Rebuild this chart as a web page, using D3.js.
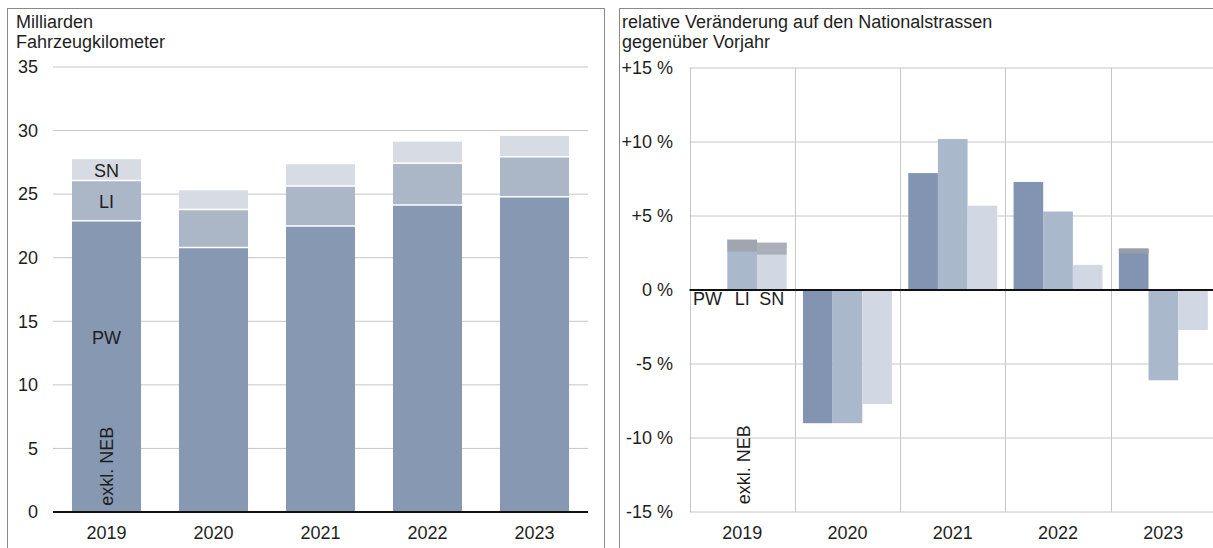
<!DOCTYPE html>
<html>
<head>
<meta charset="utf-8">
<script src="https://cdn.jsdelivr.net/npm/d3@7"></script>
<style>
  body { margin: 0; background: #fff; }
  text { font-family: "Liberation Sans", Arial, sans-serif; fill: #1e1e1e; }
</style>
</head>
<body>
<div id="chart"></div>
<script>
// categories
var years = ["2019", "2020", "2021", "2022", "2023"];
var groups = ["PW", "LI", "SN"];

// left: Milliarden Fahrzeugkilometer (stacked)
var pwKm = [22.9, 20.8, 22.5, 24.15, 24.8];
var liKm = [3.17, 3.0, 3.15, 3.28, 3.15];
var snKm = [1.68, 1.5, 1.7, 1.7, 1.63];

// right: relative change vs previous year, in %
var pwPct = [null, -9.0, 7.9, 7.3, 2.8];
var liPct = [3.4, -9.0, 10.2, 5.3, -6.1];
var snPct = [3.2, -7.7, 5.7, 1.7, -2.7];

// tick values
var kmTicks = [0, 5, 10, 15, 20, 25, 30, 35];
var pctTicks = [-15, -10, -5, 0, 5, 10, 15];

var svgWidth = 1213;
var svgHeight = 548;
var fontSize = "18px";

var colorsKm = { PW: "#8798b2", LI: "#abb6c7", SN: "#d6dbe4" };
var colorsPct = { PW: "#8294b1", LI: "#aab8cc", SN: "#d1d8e4" };
var gridColor = "#c6c6c6";

var svg = d3.select("#chart")
    .append("svg")
    .attr("width", svgWidth)
    .attr("height", svgHeight);

// panel frames
svg.append("rect")
    .attr("x", 7.5).attr("y", 8.5)
    .attr("width", 597).attr("height", 560)
    .attr("fill", "none").attr("stroke", "#8a8a8a");

svg.append("rect")
    .attr("x", 619.5).attr("y", 8.5)
    .attr("width", 640).attr("height", 560)
    .attr("fill", "none").attr("stroke", "#8a8a8a");

// ---------- left chart ----------
var xL = d3.scaleBand()
    .domain(years)
    .range([53, 588])
    .paddingInner(0.355)
    .paddingOuter(0.1775);

var yL = d3.scaleLinear()
    .domain([0, 35])
    .range([512, 67]);

var left = svg.append("g");

// gridlines
left.append("g")
    .selectAll("line")
    .data(kmTicks.filter(d => d !== 0))
    .enter()
    .append("line")
    .attr("x1", 53).attr("x2", 588)
    .attr("y1", d => yL(d)).attr("y2", d => yL(d))
    .attr("stroke", gridColor)
    .attr("stroke-width", 1);

// stacked bars
var stackData = years.map((y, i) => ({ year: y, PW: pwKm[i], LI: liKm[i], SN: snKm[i] }));
var series = d3.stack().keys(groups)(stackData);

left.append("g")
    .selectAll("g")
    .data(series)
    .enter()
    .append("g")
    .attr("fill", d => colorsKm[d.key])
    .selectAll("rect")
    .data(d => d)
    .enter()
    .append("rect")
    .attr("x", d => xL(d.data.year))
    .attr("width", xL.bandwidth())
    .attr("y", d => yL(d[1]))
    .attr("height", d => yL(d[0]) - yL(d[1]));

// white separators between segments
left.append("g")
    .selectAll("line")
    .data(series.slice(0, 2).flatMap(s => s))
    .enter()
    .append("line")
    .attr("x1", d => xL(d.data.year))
    .attr("x2", d => xL(d.data.year) + xL.bandwidth())
    .attr("y1", d => yL(d[1])).attr("y2", d => yL(d[1]))
    .attr("stroke", "#ffffff")
    .attr("stroke-width", 1.5);

// axis (labels only)
var leftAxis = d3.axisLeft(yL).tickValues(kmTicks).tickSize(0).tickPadding(0);
left.append("g")
    .attr("transform", "translate(38,0)")
    .call(leftAxis)
    .call(g => g.select(".domain").remove())
    .selectAll("text")
    .attr("font-size", fontSize)
    .attr("font-family", null)
    .attr("fill", "#1e1e1e");

var bottomAxisL = d3.axisBottom(xL).tickSize(0).tickPadding(0);
left.append("g")
    .attr("transform", "translate(0,526)")
    .call(bottomAxisL)
    .call(g => g.select(".domain").remove())
    .selectAll("text")
    .attr("font-size", fontSize)
    .attr("font-family", null)
    .attr("fill", "#1e1e1e");

// zero line
left.append("line")
    .attr("x1", 53).attr("x2", 588)
    .attr("y1", yL(0)).attr("y2", yL(0))
    .attr("stroke", "#111").attr("stroke-width", 2);

// titles
left.append("text").attr("x", 16).attr("y", 28).attr("font-size", fontSize).text("Milliarden");
left.append("text").attr("x", 16).attr("y", 48).attr("font-size", fontSize).text("Fahrzeugkilometer");

// segment labels in first bar
var cx0 = xL(years[0]) + xL.bandwidth() / 2;
left.append("text")
    .attr("x", cx0).attr("y", yL(pwKm[0] + liKm[0] + snKm[0] / 2) + 1)
    .attr("text-anchor", "middle").attr("dominant-baseline", "central")
    .attr("font-size", fontSize).text("SN");
left.append("text")
    .attr("x", cx0).attr("y", yL(pwKm[0] + liKm[0] / 2) + 1)
    .attr("text-anchor", "middle").attr("dominant-baseline", "central")
    .attr("font-size", fontSize).text("LI");
left.append("text")
    .attr("x", cx0).attr("y", yL(13.7))
    .attr("text-anchor", "middle").attr("dominant-baseline", "central")
    .attr("font-size", fontSize).text("PW");
left.append("text")
    .attr("transform", `translate(${cx0 + 6}, ${yL(3.6)}) rotate(-90)`)
    .attr("text-anchor", "middle")
    .attr("font-size", fontSize).text("exkl. NEB");

// ---------- right chart ----------
var xR = d3.scaleBand()
    .domain(years)
    .range([689.5, 1216])
    .paddingInner(0.155)
    .paddingOuter(0.0775);

var xSub = d3.scaleBand()
    .domain(groups)
    .range([0, xR.bandwidth()]);

var yR = d3.scaleLinear()
    .domain([-15, 15])
    .range([512, 68]);

var right = svg.append("g");

// horizontal gridlines
right.append("g")
    .selectAll("line")
    .data(pctTicks.filter(d => d !== 0))
    .enter()
    .append("line")
    .attr("x1", 689.5).attr("x2", svgWidth)
    .attr("y1", d => yR(d)).attr("y2", d => yR(d))
    .attr("stroke", gridColor);

// vertical gridlines at category borders
var step = xR.step();
right.append("g")
    .selectAll("line")
    .data(years)
    .enter()
    .append("line")
    .attr("x1", d => Math.round(xR(d) - xR.paddingOuter() * step) + 0.5)
    .attr("x2", d => Math.round(xR(d) - xR.paddingOuter() * step) + 0.5)
    .attr("y1", yR(15)).attr("y2", yR(-15))
    .attr("stroke", gridColor);

// grouped bars
var pctData = [];
years.forEach(function(y, i) {
    pctData.push({ year: y, key: "PW", value: pwPct[i] });
    pctData.push({ year: y, key: "LI", value: liPct[i] });
    pctData.push({ year: y, key: "SN", value: snPct[i] });
});
var bars = pctData.filter(d => d.value !== null);

right.append("g")
    .selectAll("rect")
    .data(bars)
    .enter()
    .append("rect")
    .attr("x", d => xR(d.year) + xSub(d.key))
    .attr("width", xSub.bandwidth())
    .attr("y", d => yR(Math.max(0, d.value)))
    .attr("height", d => Math.abs(yR(d.value) - yR(0)))
    .attr("fill", d => colorsPct[d.key]);

// greyish top caps seen on the 2019 bars and 2023 PW
var caps = bars.filter(d => d.value > 0 && (d.year === "2019" || (d.year === "2023" && d.key === "PW")));
right.append("g")
    .selectAll("rect")
    .data(caps)
    .enter()
    .append("rect")
    .attr("x", d => xR(d.year) + xSub(d.key))
    .attr("width", xSub.bandwidth())
    .attr("y", d => yR(d.value))
    .attr("height", d => d.year === "2019" ? 12 : 5)
    .attr("fill", "#9a9ea6")
    .attr("opacity", d => d.year === "2019" ? 0.7 : 0.9);

// axis labels
var fmtPct = d => (d > 0 ? "+" : "") + d + " %";
var rightAxis = d3.axisLeft(yR).tickValues(pctTicks).tickFormat(fmtPct).tickSize(0).tickPadding(0);
right.append("g")
    .attr("transform", "translate(673,0)")
    .call(rightAxis)
    .call(g => g.select(".domain").remove())
    .selectAll("text")
    .attr("font-size", fontSize)
    .attr("font-family", null)
    .attr("fill", "#1e1e1e");

var bottomAxisR = d3.axisBottom(xR).tickSize(0).tickPadding(0);
right.append("g")
    .attr("transform", "translate(0,526)")
    .call(bottomAxisR)
    .call(g => g.select(".domain").remove())
    .selectAll("text")
    .attr("font-size", fontSize)
    .attr("font-family", null)
    .attr("fill", "#1e1e1e");

// zero line
right.append("line")
    .attr("x1", 689.5).attr("x2", svgWidth)
    .attr("y1", yR(0)).attr("y2", yR(0))
    .attr("stroke", "#111").attr("stroke-width", 2);

// titles
right.append("text").attr("x", 622).attr("y", 28).attr("font-size", fontSize)
    .text("relative Veränderung auf den Nationalstrassen");
right.append("text").attr("x", 622).attr("y", 48).attr("font-size", fontSize)
    .text("gegenüber Vorjahr");

// group legend below zero in 2019
right.append("g")
    .selectAll("text")
    .data(groups)
    .enter()
    .append("text")
    .attr("x", (d, i) => xR(years[0]) + xSub(d) + xSub.bandwidth() / 2 - (i === 0 ? 5 : 0))
    .attr("y", yR(0) + 15)
    .attr("text-anchor", "middle")
    .attr("font-size", fontSize)
    .text(d => d);

right.append("text")
    .attr("transform", `translate(${xR(years[0]) + xR.bandwidth() / 2 + 8}, ${yR(-11.8)}) rotate(-90)`)
    .attr("text-anchor", "middle")
    .attr("font-size", fontSize).text("exkl. NEB");
</script>
</body>
</html>
